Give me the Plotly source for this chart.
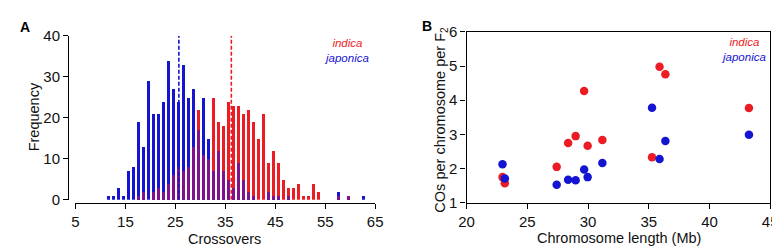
import plotly.graph_objects as go

# ---------------- Panel A data: crossover frequency histograms ----------------
crossovers = list(range(12, 64))
japonica_freq = [1, 1, 3, 1, 7, 8, 19, 13, 29, 21,
                 21, 24, 34, 27, 24, 33, 25, 27, 17, 25,
                 15, 7, 12, 7, 5, 3, 9, 5, 2, 1,
                 0, 0, 2, 1, 1, 0, 1, 0, 0, 0,
                 0, 0, 0, 0, 0, 0, 2, 0, 1, 0,
                 0, 1]
indica_freq = [0, 0, 0, 0, 0, 0, 1, 2, 0, 2,
               3, 2, 4, 6, 8, 7, 8, 13, 22, 11,
               10, 25, 19, 18, 24, 23, 23, 21, 22, 19,
               15, 21, 9, 12, 9, 5, 3, 3, 4, 1,
               1, 4, 2, 0, 0, 0, 1, 0, 1, 0,
               0, 0]
indica_mean = 36.2
japonica_mean = 25.7
hist_xticks = [5, 15, 25, 35, 45, 55, 65]
hist_yticks = [0, 10, 20, 30, 40]

# ---------------- Panel B data: COs per chromosome vs length ----------------
chrom_length = [43.25, 35.89, 36.37, 35.27, 29.97, 31.18, 29.68, 28.36, 22.96, 23.15, 28.98, 27.42]
indica_cos = [3.77, 4.98, 4.76, 2.33, 2.67, 2.84, 4.27, 2.75, 1.75, 1.57, 2.95, 2.05]
japonica_cos = [2.99, 2.28, 2.81, 3.78, 1.75, 2.16, 1.97, 1.67, 2.13, 1.71, 1.66, 1.53]
scat_xticks = [20, 25, 30, 35, 40, 45]
scat_yticks = [1, 2, 3, 4, 5, 6]

RED = "#ec1c24"
BLUE = "#1414d2"
PURPLE = "#80108c"
FONT = "Liberation Sans, Arial, sans-serif"

W, H = 780, 250
def px(x):
    return x / W
def py(y):
    return 1 - y / H

bar_x = [k - 0.2 for k in crossovers]
overlap = [min(a, b) for a, b in zip(indica_freq, japonica_freq)]

fig = go.Figure()
fig.add_trace(go.Bar(x=bar_x, y=indica_freq, width=0.6, marker=dict(color=RED, line=dict(width=0)),
                     xaxis="x", yaxis="y", showlegend=False))
fig.add_trace(go.Bar(x=bar_x, y=japonica_freq, width=0.6, marker=dict(color=BLUE, line=dict(width=0)),
                     xaxis="x", yaxis="y", showlegend=False))
fig.add_trace(go.Bar(x=bar_x, y=overlap, width=0.6, marker=dict(color=PURPLE, line=dict(width=0)),
                     xaxis="x", yaxis="y", showlegend=False))
fig.add_trace(go.Scatter(x=[japonica_mean, japonica_mean], y=[0, 40], mode="lines",
                         line=dict(color=BLUE, width=1.6, dash="4px,2px"),
                         xaxis="x", yaxis="y", showlegend=False))
fig.add_trace(go.Scatter(x=[indica_mean, indica_mean], y=[0, 40], mode="lines",
                         line=dict(color=RED, width=1.6, dash="4px,2px"),
                         xaxis="x", yaxis="y", showlegend=False))

fig.add_trace(go.Scatter(x=chrom_length, y=indica_cos, mode="markers",
                         marker=dict(color=RED, size=8.5, line=dict(width=0)),
                         xaxis="x2", yaxis="y2", showlegend=False))
fig.add_trace(go.Scatter(x=chrom_length, y=japonica_cos, mode="markers",
                         marker=dict(color=BLUE, size=8.5, line=dict(width=0)),
                         xaxis="x2", yaxis="y2", showlegend=False))

axis_common = dict(showgrid=False, zeroline=False, showline=True, linecolor="black", linewidth=1.3,
                   ticks="outside", ticklen=5, tickwidth=1.3, tickcolor="black",
                   tickfont=dict(family=FONT, size=15, color="#111"))

fig.update_layout(
    width=W, height=H, margin=dict(l=0, r=0, t=0, b=0),
    paper_bgcolor="white", plot_bgcolor="white", barmode="overlay", bargap=0,
    xaxis=dict(domain=[px(60.7), px(366.7)], range=[5, 65], tickvals=hist_xticks,
               anchor="free", position=py(199.3), **axis_common),
    yaxis=dict(domain=[py(196), py(20)], range=[0, 40], tickvals=hist_yticks,
               anchor="free", position=px(53.3), **axis_common),
    xaxis2=dict(domain=[px(460), px(770)], range=[20, 45], tickvals=scat_xticks,
                anchor="y2", mirror=True, **axis_common),
    yaxis2=dict(domain=[py(199.3), py(16)], range=[1, 6], tickvals=scat_yticks,
                anchor="x2", mirror=True, **axis_common),
)

def ann(text, x, y, size=14.5, color="#111", angle=0, bold=False, align="center"):
    if bold:
        text = "<b>" + text + "</b>"
    fig.add_annotation(text=text, x=px(x), y=py(y), xref="paper", yref="paper",
                       showarrow=False, textangle=angle, xanchor="center", yanchor="middle",
                       align=align, font=dict(family=FONT, size=size, color=color))

ann("A", 9, 11, size=14, color="black", bold=True)
ann("B", 420, 10, size=14, color="black", bold=True)
ann("Frequency", 18, 107, angle=-90)
ann("Crossovers", 213, 238)
ann("Chromosome length (Mb)", 616, 237)
ann("COs per chromosome per F<sub>2</sub>", 433, 110, angle=-90)

legend_text = ("<span style='color:%s'><i>indica</i></span><br>"
               "<span style='color:%s'><i>japonica</i></span>") % (RED, BLUE)
ann(legend_text, 337, 36, size=11.5)
ann(legend_text, 743, 34.5, size=11.5)

fig.write_html("out.html")
